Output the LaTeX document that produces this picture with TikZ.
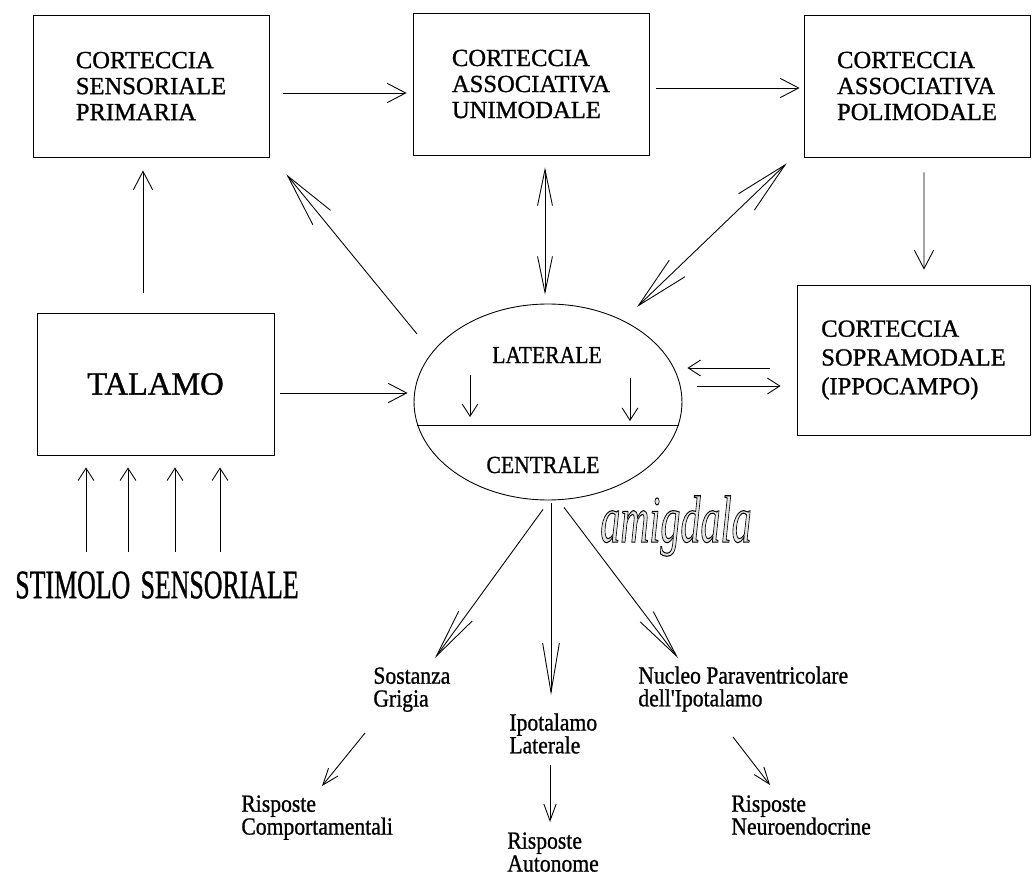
\documentclass[tikz,border=0pt]{standalone}
\usepackage{fontspec}
\usetikzlibrary{arrows.meta,shapes.geometric}
\newfontfamily\diafont{Liberation Serif}[FakeBold=1]
\newfontfamily\amyfont{Liberation Serif}
\newcommand\outlinetext[1]{\special{pdf:literal direct 0 G 2 Tr 0.6 w}#1\special{pdf:literal direct 0 Tr}}

\tikzset{
  tipS/.tip={Straight Barb[length=7pt,width=9pt]},
  tipT/.tip={Straight Barb[length=10.5pt,width=11pt]},
  tipL/.tip={Straight Barb[length=30.5pt,width=13pt]},
  tipV/.tip={Straight Barb[length=20.5pt,width=8.5pt]},
  tipF/.tip={Straight Barb[length=28pt,width=9.5pt]},
  tipM/.tip={Straight Barb[length=9.5pt,width=7pt]},
  cbox/.style={draw, rectangle, minimum width=4.72cm, minimum height=2.84cm,
    align=left, inner sep=0pt, font=\diafont\fontsize{14}{14.8}\selectfont},
  lab/.style={inner sep=0pt, align=left, xscale=0.88,
    font=\diafont\fontsize{14}{13}\selectfont},
}

\begin{document}
\begin{tikzpicture}[x=0.02cm, y=-0.02cm, line width=0.5pt]
    \useasboundingbox (0,0) rectangle (1035,878);

    % cortecce e talamo
    \node[cbox] (cSP) at (151,86) {CORTECCIA\\SENSORIALE\\PRIMARIA};
    \node[cbox] (cAU) at (531,84) {CORTECCIA\\ASSOCIATIVA\\UNIMODALE};
    \node[cbox, minimum width=4.52cm] (cAP) at (917,86) {CORTECCIA\\ASSOCIATIVA\\POLIMODALE};
    \node[cbox, minimum width=4.66cm, minimum height=3cm,
      font=\diafont\fontsize{14}{16.4}\selectfont] (cSM) at (913.5,360) {CORTECCIA\\SOPRAMODALE\\(IPPOCAMPO)};
    \node[cbox, minimum width=4.74cm, font=\diafont\fontsize{18.5}{20}\selectfont] (tal) at (155.5,384) {TALAMO};

    % amigdala
    \node[draw, ellipse, minimum width=5.36cm, minimum height=3.92cm, inner sep=0pt] (amy) at (548,402) {};
    \coordinate (dvL) at (amy.190.5);
    \coordinate (dvR) at (amy.-10.5);
    \draw (dvL) -- (dvR);
    \node[lab] (lat) at (547,355) {LATERALE};
    \node[lab] (cen) at (543,465) {CENTRALE};
    \node[inner sep=0pt, xscale=0.6, font=\amyfont\itshape\fontsize{38}{38}\selectfont]
      (amyT) at (676,526) {{\color{black!10}\outlinetext{amigdala}}};

    \node[inner sep=0pt, anchor=north, xscale=0.64, font=\diafont\fontsize{23}{23}\selectfont]
      (stim) at (157,571) {STIMOLO\hspace{0.15em} SENSORIALE};

    % uscite
    \node[lab, anchor=north west] (sost) at (373,667) {Sostanza\\Grigia};
    \node[lab, anchor=north west] (ipoL) at (509,713) {Ipotalamo\\Laterale};
    \node[lab, anchor=north west] (nuc) at (638,666) {Nucleo Paraventricolare\\dell'Ipotalamo};
    \node[lab, anchor=north west] (rC) at (241,795) {Risposte\\Comportamentali};
    \node[lab, anchor=north west] (rA) at (507,832) {Risposte\\Autonome};
    \node[lab, anchor=north west] (rN) at (731,795) {Risposte\\Neuroendocrine};

    % connessioni
    \draw[-tipT] ([shift={(14,7)}]cSP.east) -- ([shift={(-6,9)}]cAU.west);
    \draw[-tipT] ([shift={(7,4)}]cAU.east) -- ([shift={(-4,2)}]cAP.west);
    \draw[-tipT] ([shift={(-12.5,-20)}]tal.north) -- ([shift={(-8,13)}]cSP.south);
    \draw[-tipL] ([shift={(-131,-68)}]amy.center) -- ([shift={(17,17)}]cSP.south east);
    \draw[tipV-tipV] ([shift={(14,12)}]cAU.south) -- ([shift={(-3,-9)}]amy.north);
    \draw[tipL-tipL] ([shift={(-17,6)}]cAP.south west) -- ([shift={(89,-95)}]amy.center);
    \draw[-tipT] ([shift={(7,15)}]cAP.south) -- ([shift={(10.5,-15)}]cSM.north);
    \draw[-tipT] ([shift={(6,9)}]tal.east) -- ([shift={(-6,-9)}]amy.west);
    \draw[-tipS] ([shift={(-27,8)}]cSM.west) -- ([shift={(5,-34)}]amy.east);
    \draw[-tipS] ([shift={(15,-16)}]amy.east) -- ([shift={(-16,26)}]cSM.west);

    \foreach \x in {86,128,175,220}
      \draw[-tipS, shorten <=0.38cm, shorten >=0.24cm] (\x,0 |- stim.north) -- (\x,0 |- tal.south);

    \draw[-tipS, shorten <=0.22cm, shorten >=0.16cm] (470,0 |- lat.south) -- (470,0 |- dvL);
    \draw[-tipS, shorten <=0.28cm, shorten >=0.08cm] (630,0 |- lat.south) -- (630,0 |- dvR);

    \draw[-tipF] ([shift={(-5,9)}]amy.south) -- ([shift={(62,-9)}]sost.north west);
    \draw[-tipF] ([shift={(3,3)}]amy.south) -- ([shift={(42,-18)}]ipoL.north west);
    \draw[-tipF] ([shift={(16,7)}]amy.south) -- ([shift={(40,-8)}]nuc.north west);

    \draw[-tipM] ([shift={(-8,66)}]sost.north west) -- ([shift={(81,-9)}]rC.north west);
    \draw[-tipM] ([shift={(41,52)}]ipoL.north west) -- ([shift={(43,-10)}]rA.north west);
    \draw[-tipM] ([shift={(95,71)}]nuc.north west) -- ([shift={(39,-10)}]rN.north west);
\end{tikzpicture}
\end{document}
